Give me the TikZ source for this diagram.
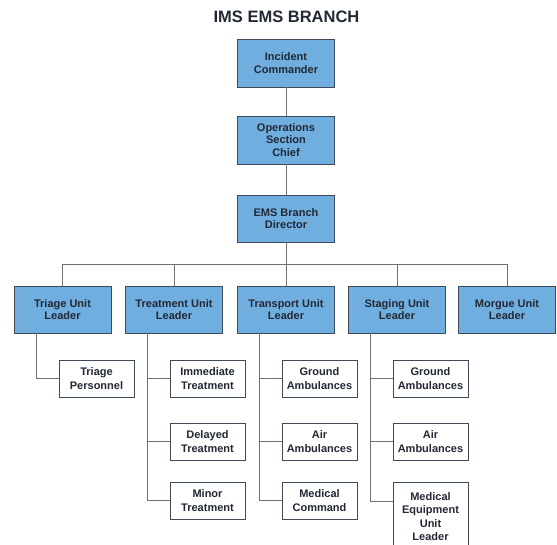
\documentclass[tikz,border=0pt]{standalone}
\usepackage{fontspec}
\setmainfont{Liberation Sans}
\usepackage{tikz}

\definecolor{cmdblue}{RGB}{112,174,224}
\definecolor{boxline}{RGB}{62,74,88}
\definecolor{boxtext}{RGB}{34,40,52}
\definecolor{wire}{RGB}{112,112,112}

\begin{document}
\begin{tikzpicture}[x=1pt,y=-1pt]
	\tikzset{office/.style = {shape=rectangle,draw=boxline,fill=cmdblue,
			line width=0.9pt,minimum width=97pt,minimum height=47pt,
			inner sep=0pt,align=center,text=boxtext,
			font=\fontsize{11}{12.5}\selectfont\bfseries}}
	\tikzset{officeSub/.style = {office,fill=white,minimum width=75pt,
			minimum height=37pt,font=\fontsize{11}{13.5}\selectfont\bfseries}}
	\tikzset{edge/.style = {draw=wire,line width=0.8pt}}

	\useasboundingbox (0,0) rectangle (557,544);
	\clip (0,0) rectangle (557,544);

	% title
	\node[font=\fontsize{16.5}{20}\selectfont\bfseries,text=boxtext] (title)
		at (286.5,17) {IMS EMS BRANCH};

	% command chain
	\node[office,minimum height=48pt] (ic) at (286,63) {Incident\\Commander};
	\node[office,minimum height=48pt] (osc) at (286,140) {Operations\\Section\\Chief};
	\node[office] (ebd) at (286,218.5) {EMS Branch\\Director};

	% unit leaders
	\node[office] (tri) at (62.5,309.5) {Triage Unit\\Leader};
	\node[office] (trt) at (174,309.5) {Treatment Unit\\Leader};
	\node[office] (trn) at (286,309.5) {Transport Unit\\Leader};
	\node[office] (stg) at (397,309.5) {Staging Unit\\Leader};
	\node[office] (mor) at (507,309.5) {Morgue Unit\\Leader};

	% groups under each unit
	\node[officeSub] (tp) at (96.5,378.5) {Triage\\Personnel};
	\node[officeSub] (it) at (207.5,378.5) {Immediate\\Treatment};
	\node[officeSub] (dt) at (207.5,441.5) {Delayed\\Treatment};
	\node[officeSub] (mt) at (207.5,500.5) {Minor\\Treatment};
	\node[officeSub] (tga) at (319.5,378.5) {Ground\\Ambulances};
	\node[officeSub] (taa) at (319.5,441.5) {Air\\Ambulances};
	\node[officeSub] (tmc) at (319.5,500.5) {Medical\\Command};
	\node[officeSub] (sga) at (430.5,378.5) {Ground\\Ambulances};
	\node[officeSub] (saa) at (430.5,441.5) {Air\\Ambulances};
	\node[officeSub,minimum height=68pt,anchor=north] (mel) at (430.5,482)
		{Medical\\Equipment\\Unit\\Leader};

	%edges
	\coordinate (bar) at (286,264);
	\draw[edge] (ic) -- (osc);
	\draw[edge] (osc) -- (ebd);
	\draw[edge] (ebd) -- (bar);
	\foreach \u in {tri,trt,trn,stg,mor}
		\draw[edge] (bar) -| (\u);

	\draw[edge] ([xshift=22.5pt]tri.south west) |- (tp);
	\foreach \s in {it,dt,mt}
		\draw[edge] ([xshift=22.5pt]trt.south west) |- (\s);
	\foreach \s in {tga,taa,tmc}
		\draw[edge] ([xshift=22.5pt]trn.south west) |- (\s);
	\foreach \s in {sga,saa}
		\draw[edge] ([xshift=22.5pt]stg.south west) |- (\s);
	\draw[edge] ([xshift=22.5pt]stg.south west) |- ([yshift=-19pt]mel.north west);

\end{tikzpicture}
\end{document}
